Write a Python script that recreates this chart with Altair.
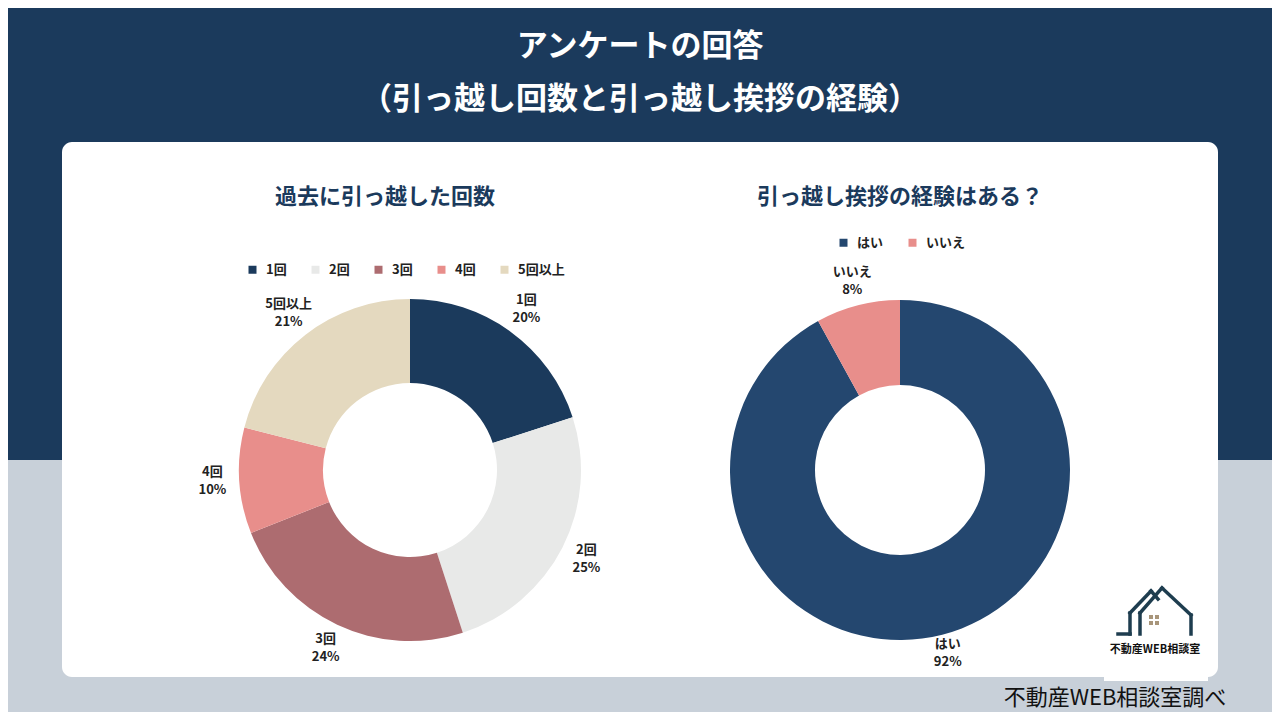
import altair as alt
import pandas as pd

OFF = 8
W, H = 1264, 704
FONT = "Noto Sans CJK JP"

# ---- data ----
moves_cats = ["1回", "2回", "3回", "4回", "5回以上"]
moves_pct = [20, 25, 24, 10, 21]
moves_colors = ["#1B3A5C", "#E8E9E8", "#AD6C70", "#E88E8B", "#E4D9BF"]

greet_cats = ["はい", "いいえ"]
greet_pct = [92, 8]
greet_colors = ["#24476F", "#E88E8B"]

title1 = "アンケートの回答"
title2 = "（引っ越し回数と引っ越し挨拶の経験）"
sub_left = "過去に引っ越した回数"
sub_right = "引っ越し挨拶の経験はある？"
logo_text = "不動産WEB相談室"
footer = "不動産WEB相談室調べ"

NAVY = "#1B3A5C"
BOTTOM = "#C8D0D9"

moves_df = pd.DataFrame({
    "cat": moves_cats, "pct": moves_pct, "idx": list(range(len(moves_cats))),
    "label": [f"{c}\n{p}%" for c, p in zip(moves_cats, moves_pct)],
})
greet_df = pd.DataFrame({
    "cat": greet_cats, "pct": greet_pct, "idx": list(range(len(greet_cats))),
    "label": [f"{c}\n{p}%" for c, p in zip(greet_cats, greet_pct)],
})
dummy = pd.DataFrame({"a": [0]})


def px(v):
    return alt.value(v - OFF)


def rect(x1, y1, x2, y2, color, cr=0):
    return alt.Chart(dummy).mark_rect(color=color, cornerRadius=cr).encode(
        x=px(x1), x2=px(x2), y=px(y1), y2=px(y2))


def txt(s, x, y, size, color, weight="bold", font=FONT):
    return alt.Chart(dummy).mark_text(
        text=s, fontSize=size, fontWeight=weight, font=font, color=color,
        align="center", baseline="middle").encode(x=px(x), y=px(y))


def seg(x1, y1, x2, y2, color="#1E3D4F", w=3.5):
    return alt.Chart(dummy).mark_rule(color=color, strokeWidth=w, strokeCap="square").encode(
        x=px(x1), y=px(y1), x2=px(x2), y2=px(y2))


def donut(df, cats, colors, cx, cy, r_in, r_out, r_lbl, dy, lx, ly):
    base = alt.Chart(df).encode(
        theta=alt.Theta("pct:Q", stack=True),
        order=alt.Order("idx:Q"),
        x=px(cx), y=px(cy),
    )
    arc = base.mark_arc(innerRadius=r_in, outerRadius=r_out).encode(
        color=alt.Color("cat:N", sort=cats,
                        scale=alt.Scale(domain=cats, range=colors),
                        legend=alt.Legend(orient="none", legendX=lx - OFF, legendY=ly - OFF,
                                          direction="horizontal", title=None,
                                          symbolType="square", symbolSize=64,
                                          symbolStrokeWidth=0,
                                          labelFont=FONT, labelFontSize=13,
                                          labelFontWeight="bold", labelColor="#222222",
                                          columnPadding=22, labelOffset=7, padding=0))
    )
    lbl = base.mark_text(radius=r_lbl, dy=dy, font=FONT, fontSize=13, fontWeight="bold",
                         color="#222222", lineBreak="\n", lineHeight=18,
                         align="center", baseline="middle").encode(text="label:N")
    return alt.layer(arc, lbl)


layers = [
    rect(0, 0, 1290, 460, NAVY),
    rect(62, 142, 1218, 677, "white", 10),
    txt(title1, 640, 47, 31, "white"),
    txt(title2, 640, 100, 31, "white"),
    txt(sub_left, 385, 197, 22, NAVY),
    txt(sub_right, 900, 197, 22, NAVY),
    # logo
    rect(1104, 640, 1208, 681, "white"),
    seg(1118, 634, 1130, 634),
    seg(1130, 634, 1130, 613),
    seg(1130, 613, 1151, 591),
    seg(1151, 591, 1158, 599),
    seg(1140, 634, 1140, 613),
    seg(1140, 613, 1162, 588),
    seg(1162, 588, 1191, 615),
    seg(1191, 615, 1191, 634),
    rect(1149, 615, 1153, 619, "#A8957A"),
    rect(1155, 615, 1159, 619, "#A8957A"),
    rect(1149, 621, 1153, 625, "#A8957A"),
    rect(1155, 621, 1159, 625, "#A8957A"),
    txt(logo_text, 1155, 650, 11, "#111111"),
    txt(footer, 1115, 698, 22, "#111111", weight="normal"),
    donut(moves_df, moves_cats, moves_colors, 410, 470, 87, 171, 198, -10, 246, 263),
    donut(greet_df, greet_cats, greet_colors, 900, 470, 85, 170, 192, -12, 837, 236),
]

chart = alt.layer(*layers).resolve_scale(
    theta="independent", color="independent"
).properties(
    width=W, height=H, padding=0, autosize=alt.AutoSizeParams(type="none"),
    background=BOTTOM,
).configure_view(stroke=None)

chart.save("out.html", embed_options={"renderer": "svg", "actions": False})
